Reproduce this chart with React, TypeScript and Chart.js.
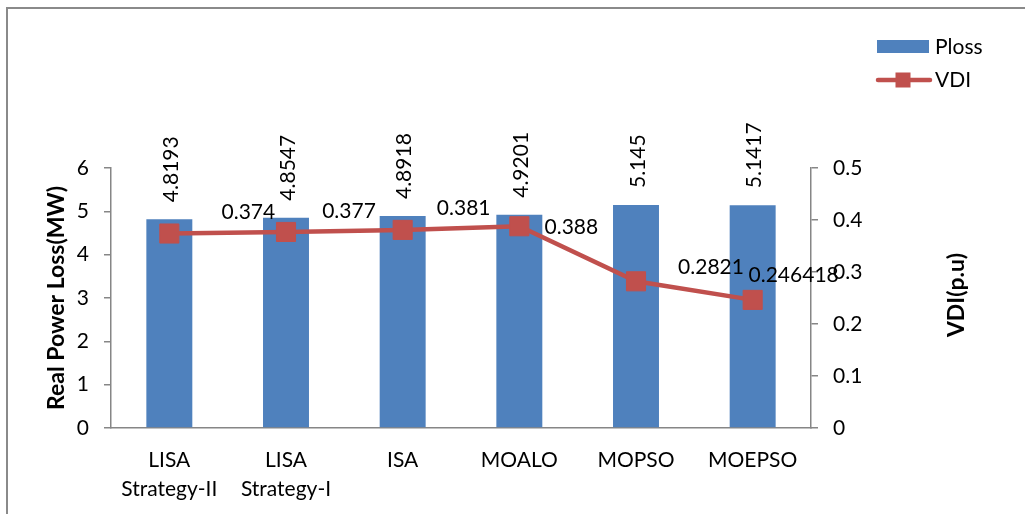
import React, { useEffect, useRef } from 'react';
import { Chart, registerables } from 'chart.js';

Chart.register(...registerables);

// ---- data ----
const categories: (string | string[])[] = [
  ['LISA', 'Strategy-II'],
  ['LISA', 'Strategy-I'],
  'ISA',
  'MOALO',
  'MOPSO',
  'MOEPSO',
];
const plossValues = [4.8193, 4.8547, 4.8918, 4.9201, 5.145, 5.1417];
const plossLabels = ['4.8193', '4.8547', '4.8918', '4.9201', '5.145', '5.1417'];
const vdiValues = [0.374, 0.377, 0.381, 0.388, 0.2821, 0.246418];
const vdiLabels = ['0.374', '0.377', '0.381', '0.388', '0.2821', '0.246418'];
const leftAxisRange = [0, 6];
const rightAxisRange = [0, 0.5];
const seriesNames = ['Ploss', 'VDI'];
const axisTitles = ['Real Power Loss(MW)', 'VDI(p.u)'];

// ---- styles ----
const FONT = 'Lato, "Open Sans", sans-serif';
const BAR_COLOR = '#4F81BD';
const LINE_COLOR = '#C0504D';
const AXIS_COLOR = '#868686';
// label placement relative to each VDI point (label centre offsets)
const vdiLabelOffsets = [
  [79, -21],
  [63, -21],
  [61, -22],
  [52, 1],
  [75, -14],
  [41, -25],
];

const decorPlugin = {
  id: 'decor',
  beforeDraw(chart: any) {
    const { ctx, width, height } = chart;
    ctx.save();
    ctx.fillStyle = '#ffffff';
    ctx.fillRect(0, 0, width, height);
    ctx.strokeStyle = '#8a8a8a';
    ctx.lineWidth = 2;
    ctx.beginPath();
    ctx.moveTo(7, height + 2);
    ctx.lineTo(7, 8);
    ctx.lineTo(width + 2, 8);
    ctx.stroke();
    ctx.restore();
  },
  afterDatasetsDraw(chart: any) {
    const { ctx } = chart;
    ctx.save();
    ctx.fillStyle = '#000';
    ctx.font = `21px ${FONT}`;
    // bar value labels (rotated)
    const barMeta = chart.getDatasetMeta(1);
    barMeta.data.forEach((el: any, i: number) => {
      ctx.save();
      ctx.translate(el.x + 2, el.y - 17);
      ctx.rotate(-Math.PI / 2);
      ctx.textAlign = 'left';
      ctx.textBaseline = 'middle';
      ctx.fillText(plossLabels[i], 0, 0);
      ctx.restore();
    });
    // line value labels
    const lineMeta = chart.getDatasetMeta(0);
    lineMeta.data.forEach((el: any, i: number) => {
      const [dx, dy] = vdiLabelOffsets[i];
      ctx.textAlign = 'center';
      ctx.textBaseline = 'middle';
      ctx.fillText(vdiLabels[i], el.x + dx, el.y + dy);
    });
    ctx.restore();
  },
  afterDraw(chart: any) {
    const { ctx, chartArea } = chart;
    ctx.save();
    // axis titles
    ctx.fillStyle = '#000';
    ctx.font = `bold 23px ${FONT}`;
    ctx.textAlign = 'center';
    ctx.textBaseline = 'middle';
    const cy = (chartArea.top + chartArea.bottom) / 2;
    ctx.save();
    ctx.translate(57, cy);
    ctx.rotate(-Math.PI / 2);
    ctx.fillText(axisTitles[0], 0, 0);
    ctx.restore();
    ctx.save();
    ctx.translate(957, cy - 3);
    ctx.rotate(-Math.PI / 2);
    ctx.fillText(axisTitles[1], 0, 0);
    ctx.restore();

    // legend
    ctx.fillStyle = BAR_COLOR;
    ctx.fillRect(877, 40, 52, 13);
    ctx.strokeStyle = LINE_COLOR;
    ctx.lineWidth = 4.5;
    ctx.lineCap = 'round';
    ctx.beginPath();
    ctx.moveTo(878, 80);
    ctx.lineTo(930, 80);
    ctx.stroke();
    ctx.fillStyle = LINE_COLOR;
    ctx.fillRect(895.5, 72.5, 15, 15);
    ctx.fillStyle = '#000';
    ctx.font = `21px ${FONT}`;
    ctx.textAlign = 'left';
    ctx.textBaseline = 'middle';
    ctx.fillText(seriesNames[0], 935, 47);
    ctx.fillText(seriesNames[1], 935, 80);
    ctx.restore();
  },
};

export default function App() {
  const canvasRef = useRef<HTMLCanvasElement | null>(null);

  useEffect(() => {
    let chart: Chart | null = null;
    let cancelled = false;

    const build = () => {
      if (cancelled || !canvasRef.current) return;
      chart = new Chart(canvasRef.current, {
        type: 'bar',
        data: {
          labels: categories as any,
          datasets: [
            {
              type: 'line',
              label: seriesNames[1],
              data: vdiValues,
              yAxisID: 'y1',
              borderColor: LINE_COLOR,
              backgroundColor: LINE_COLOR,
              borderWidth: 4.5,
              pointStyle: 'rect',
              pointRadius: 13.5,
              pointBorderWidth: 1,
              pointBackgroundColor: LINE_COLOR,
              pointBorderColor: LINE_COLOR,
              tension: 0,
              order: 0,
            } as any,
            {
              type: 'bar',
              label: seriesNames[0],
              data: plossValues,
              yAxisID: 'y',
              backgroundColor: BAR_COLOR,
              borderWidth: 0,
              barPercentage: 0.394,
              categoryPercentage: 1,
              order: 1,
            },
          ],
        },
        options: {
          responsive: false,
          animation: false,
          events: [],
          layout: { padding: { left: 0, right: 0, top: 168, bottom: 0 } },
          plugins: {
            legend: { display: false },
            tooltip: { enabled: false },
            title: { display: false },
          },
          scales: {
            x: {
              offset: true,
              grid: { display: false, drawTicks: false },
              border: { display: true, color: AXIS_COLOR, width: 1.5 },
              ticks: {
                color: '#000',
                font: { family: FONT, size: 21, lineHeight: '29px' as any },
                padding: 17.5,
                maxRotation: 0,
                autoSkip: false,
              },
              afterFit(scale: any) {
                scale.height = 86;
              },
            },
            y: {
              position: 'left',
              min: leftAxisRange[0],
              max: leftAxisRange[1],
              grid: {
                drawOnChartArea: false,
                drawTicks: true,
                tickLength: 7,
                color: AXIS_COLOR,
                lineWidth: 1.5,
              },
              border: { display: true, color: AXIS_COLOR, width: 1.5 },
              ticks: {
                stepSize: 1,
                color: '#000',
                font: { family: FONT, size: 21 },
                padding: 15,
              },
              afterFit(scale: any) {
                scale.width = 111;
              },
            },
            y1: {
              position: 'right',
              min: rightAxisRange[0],
              max: rightAxisRange[1],
              grid: {
                drawOnChartArea: false,
                drawTicks: true,
                tickLength: 7,
                color: AXIS_COLOR,
                lineWidth: 1.5,
              },
              border: { display: true, color: AXIS_COLOR, width: 1.5 },
              ticks: {
                stepSize: 0.1,
                color: '#000',
                font: { family: FONT, size: 21 },
                padding: 15,
                callback: (v: any) => String(parseFloat(Number(v).toFixed(1))),
              },
              afterFit(scale: any) {
                scale.width = 214;
              },
            },
          },
        },
        plugins: [decorPlugin],
      });
    };

    const fontsApi: any = (document as any).fonts;
    if (fontsApi && fontsApi.load) {
      Promise.all([
        fontsApi.load(`21px Lato`),
        fontsApi.load(`bold 23px Lato`),
      ])
        .catch(() => null)
        .then(build);
    } else {
      build();
    }

    return () => {
      cancelled = true;
      if (chart) chart.destroy();
    };
  }, []);

  return (
    <div
      style={{
        position: 'absolute',
        left: 0,
        top: 0,
        width: 1025,
        height: 514,
        background: '#fff',
      }}
    >
      <canvas
        ref={canvasRef}
        width={1025}
        height={514}
        style={{ display: 'block', width: 1025, height: 514 }}
      />
    </div>
  );
}
